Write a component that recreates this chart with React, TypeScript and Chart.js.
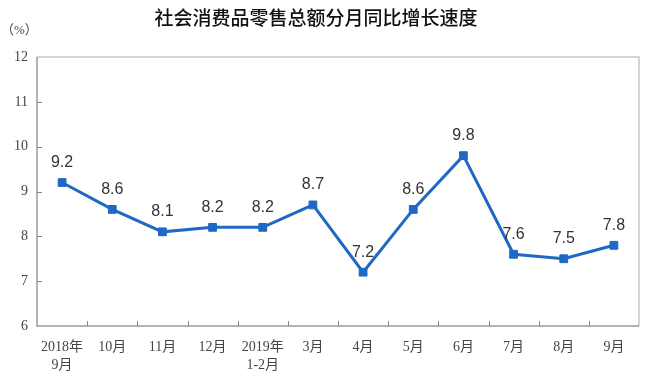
import React, { useEffect, useRef } from "react";
import { Chart, registerables } from "chart.js";

Chart.register(...registerables);

const categories: (string | string[])[] = [
  ["2018年", "9月"], "10月", "11月", "12月", ["2019年", "1-2月"],
  "3月", "4月", "5月", "6月", "7月", "8月", "9月",
];
const growth: number[] = [9.2, 8.6, 8.1, 8.2, 8.2, 8.7, 7.2, 8.6, 9.8, 7.6, 7.5, 7.8];
const yTicks: number[] = [6, 7, 8, 9, 10, 11, 12];
const titleText = "社会消费品零售总额分月同比增长速度";
const unitText = "（%）";

const LINE_COLOR = "#1f68c4";
const SERIF = "'Liberation Serif', 'Noto Sans CJK SC', serif";

const decorPlugin = {
  id: "decor",
  afterDraw(chart: any) {
    const { ctx, chartArea } = chart;
    const { left, right, top, bottom } = chartArea;
    const xs = chart.scales.x;
    const ys = chart.scales.y;
    ctx.save();
    // frame
    ctx.lineWidth = 1.5;
    ctx.strokeStyle = "#c8c8c8";
    ctx.beginPath();
    ctx.moveTo(left, top);
    ctx.lineTo(right, top);
    ctx.lineTo(right, bottom);
    ctx.stroke();
    ctx.strokeStyle = "#9a9a9a";
    ctx.beginPath();
    ctx.moveTo(left, top);
    ctx.lineTo(left, bottom);
    ctx.lineTo(right, bottom);
    ctx.stroke();
    // x ticks between categories
    ctx.lineWidth = 1;
    ctx.strokeStyle = "#888";
    ctx.beginPath();
    for (let i = 1; i < categories.length; i++) {
      const x = Math.round((xs.getPixelForValue(i - 1) + xs.getPixelForValue(i)) / 2) + 0.5;
      ctx.moveTo(x, bottom);
      ctx.lineTo(x, bottom - 5);
    }
    // y ticks
    yTicks.forEach((v) => {
      if (v === yTicks[0] || v === yTicks[yTicks.length - 1]) return;
      const y = Math.round(ys.getPixelForValue(v)) + 0.5;
      ctx.moveTo(left, y);
      ctx.lineTo(left + 5, y);
    });
    ctx.stroke();

    // data labels
    const meta = chart.getDatasetMeta(0);
    ctx.fillStyle = "#333";
    ctx.font = "16px 'Liberation Sans', Arial, sans-serif";
    ctx.textAlign = "center";
    ctx.textBaseline = "middle";
    meta.data.forEach((pt: any, i: number) => {
      ctx.fillText(growth[i].toFixed(1), pt.x, pt.y - 20);
    });

    // title
    ctx.fillStyle = "#111";
    ctx.font = "500 19px 'Noto Sans CJK SC', sans-serif";
    ctx.fillText(titleText, 316, 18);
    // unit
    ctx.fillStyle = "#444";
    ctx.font = "13px " + SERIF;
    ctx.textAlign = "left";
    ctx.fillText(unitText, 1, 31);
    ctx.restore();
  },
};

export default function App() {
  const ref = useRef<HTMLCanvasElement | null>(null);
  useEffect(() => {
    document.body.style.margin = "0";
    const canvas = ref.current;
    if (!canvas) return;
    const chart = new Chart(canvas, {
      type: "line",
      data: {
        labels: categories,
        datasets: [
          {
            data: growth,
            borderColor: LINE_COLOR,
            backgroundColor: LINE_COLOR,
            borderWidth: 3,
            pointStyle: "rect",
            pointRadius: 5.5,
            pointBorderWidth: 1,
            pointBackgroundColor: LINE_COLOR,
            pointBorderColor: LINE_COLOR,
            tension: 0,
          },
        ],
      },
      options: {
        animation: false,
        responsive: false,
        layout: { padding: { top: 57, right: 8, left: 0, bottom: 0 } },
        plugins: {
          legend: { display: false },
          tooltip: { enabled: false },
          title: { display: false },
        },
        scales: {
          x: {
            offset: true,
            grid: { display: false, drawTicks: false },
            border: { display: false },
            ticks: {
              padding: 12,
              color: "#444",
              font: { family: SERIF, size: 14, lineHeight: 1.3 },
              maxRotation: 0,
              autoSkip: false,
            },
            afterFit: (s: any) => {
              s.height = 52;
            },
          },
          y: {
            min: 6,
            max: 12,
            grid: { display: false, drawTicks: false },
            border: { display: false },
            ticks: {
              stepSize: 1,
              padding: 9,
              color: "#444",
              font: { family: SERIF, size: 14 },
            },
            afterBuildTicks: (s: any) => {
              s.ticks = yTicks.map((v) => ({ value: v }));
            },
            afterFit: (s: any) => {
              s.width = 37;
            },
          },
        },
      },
      plugins: [decorPlugin],
    });
    return () => chart.destroy();
  }, []);
  return (
    <div style={{ width: 647, height: 378 }}>
      <canvas ref={ref} width={647} height={378} style={{ display: "block" }} />
    </div>
  );
}
